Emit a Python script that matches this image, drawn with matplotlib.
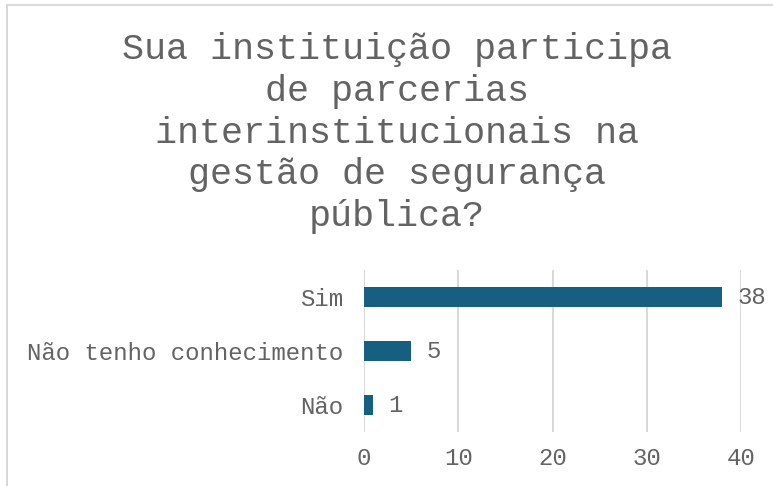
import matplotlib
matplotlib.use("Agg")
import matplotlib.pyplot as plt
from matplotlib.patches import Rectangle

categories = ["Sim", "Não tenho conhecimento", "Não"]
values = [38, 5, 1]
xticks = [0, 10, 20, 30, 40]
title = "Sua instituição participa\nde parcerias\ninterinstitucionais na\ngestão de segurança\npública?"

TEXT = "#636363"
BAR = "#175F80"
GRID = "#D9D9D9"
FONT = "Liberation Mono"

W, H = 773, 486
fig = plt.figure(figsize=(W / 100, H / 100), dpi=100)

# outer chart border (partially visible)
fig.add_artist(Rectangle((7.5 / W, -0.1), 1.2, 1 - 5.5 / H + 0.1,
                         transform=fig.transFigure, fill=False,
                         edgecolor="#D9D9D9", lw=1.5, clip_on=False))

ax = fig.add_axes([364 / W, 1 - 432 / H, (741 - 364) / W, (432 - 270) / H])
ypos = list(range(len(categories)))
ax.barh(ypos, values, height=0.36, color=BAR, zorder=3)
ax.set_ylim(len(categories) - 0.5, -0.5)
ax.set_xlim(0, 40)
ax.set_xticks(xticks)
ax.set_yticks(ypos)
ax.set_yticklabels(categories)
for s in ax.spines.values():
    s.set_visible(False)
ax.grid(axis="x", color=GRID, lw=1.5, zorder=0)
ax.tick_params(axis="both", length=0, colors=TEXT, labelsize=17.3)
ax.tick_params(axis="x", pad=11)
ax.tick_params(axis="y", pad=15)
for lab in ax.get_xticklabels() + ax.get_yticklabels():
    lab.set_fontfamily(FONT)
    lab.set_color(TEXT)

for y, v in zip(ypos, values):
    ax.annotate(str(v), (v, y), xytext=(11, 0), textcoords="offset points",
                ha="left", va="center", fontsize=17.3, fontfamily=FONT,
                color=TEXT)

fig.text(397 / W, 1 - 133 / H, title, ha="center", va="center",
         fontsize=26.5, fontfamily=FONT, color=TEXT, linespacing=1.25)

fig.savefig("out.png", dpi=100, facecolor="white")
